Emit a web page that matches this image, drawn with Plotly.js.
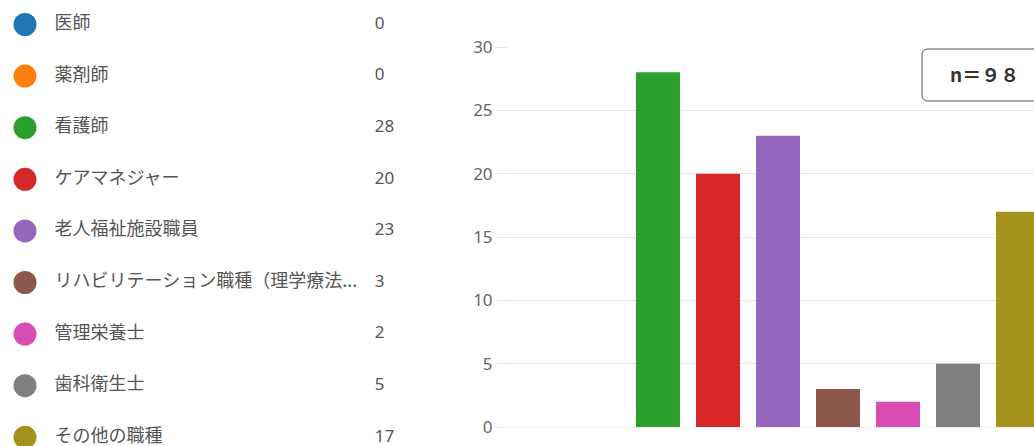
<!DOCTYPE html>
<html>
<head>
<meta charset="utf-8">
<script src="https://cdn.plot.ly/plotly-3.0.1.min.js"></script>
<style>html,body{margin:0;padding:0;background:#fff;}#chart{width:1034px;height:446px;}</style>
</head>
<body>
<div id="chart"></div>
<script>
const categories = ["医師","薬剤師","看護師","ケアマネジャー","老人福祉施設職員","リハビリテーション職種（理学療法...","管理栄養士","歯科衛生士","その他の職種"];
const counts = [0,0,28,20,23,3,2,5,17];
const colors = ["#1f77b4","#ff7f0e","#2ca02c","#d62728","#9467bd","#8c564b","#d94cb4","#7f7f7f","#a3921c"];
const yTicks = [0,5,10,15,20,25,30];
const nLabel = "n＝９８";

const W = 1034, H = 446;
const idx = categories.map((_, i) => i);

const bars = {
  type: "bar",
  x: idx,
  y: counts,
  marker: {color: colors},
  xaxis: "x", yaxis: "y",
  hoverinfo: "skip",
  showlegend: false
};

const rowY = idx.map(i => i);
const dots = {
  type: "scatter", mode: "markers",
  x: idx.map(() => 0), y: rowY,
  marker: {color: colors, size: 23, line: {width: 0}},
  xaxis: "x2", yaxis: "y2", hoverinfo: "skip", showlegend: false
};
const labels = {
  type: "scatter", mode: "text",
  x: idx.map(() => 1), y: rowY,
  text: categories, textposition: "middle right",
  textfont: {family: "Noto Sans CJK JP", size: 18, color: "#555"},
  xaxis: "x2", yaxis: "y2", hoverinfo: "skip", showlegend: false
};
const values = {
  type: "scatter", mode: "text",
  x: idx.map(() => 11.86), y: rowY,
  text: counts.map(String), textposition: "middle right",
  textfont: {family: "Noto Sans", size: 17, color: "#555"},
  xaxis: "x2", yaxis: "y2", hoverinfo: "skip", showlegend: false
};

const leftW = 480;
const x2unit = 29.5;
const rowH = 51.6;
const row0 = 24.5;

const boxX0 = 922 / W, boxX1 = 1.03, boxY1 = (H - 49) / H, boxY0 = (H - 101) / H;
const rx = 6 / W, ry = 6 / H;
const boxPath = `M ${boxX0 + rx} ${boxY1} L ${boxX1} ${boxY1} L ${boxX1} ${boxY0} L ${boxX0 + rx} ${boxY0} Q ${boxX0} ${boxY0} ${boxX0} ${boxY0 + ry} L ${boxX0} ${boxY1 - ry} Q ${boxX0} ${boxY1} ${boxX0 + rx} ${boxY1} Z`;

const layout = {
  width: W, height: H,
  margin: {l: 0, r: 0, t: 0, b: 0, pad: 0},
  paper_bgcolor: "#fff", plot_bgcolor: "rgba(0,0,0,0)",
  bargap: 0.267,
  xaxis: {
    domain: [508 / W, 1], range: [-0.5, -0.5 + (W - 508) / 60],
    showticklabels: false, showgrid: false, zeroline: false,
    showline: true, linecolor: "#f2f2f2", linewidth: 1, fixedrange: true
  },
  yaxis: {
    domain: [(H - 427) / H, (H - 47) / H], range: [0, 30],
    tickvals: yTicks, ticktext: yTicks.map(String),
    ticks: "outside", ticklen: 11, tickcolor: "#e6e6e6", tickwidth: 1,
    tickfont: {family: "Noto Sans", size: 17, color: "#666"},
    showgrid: true, gridcolor: "#e6e6e6", gridwidth: 1,
    zeroline: true, zerolinecolor: "#dcdcdc", zerolinewidth: 1,
    showline: false, fixedrange: true
  },
  xaxis2: {
    domain: [0, leftW / W], range: [-25 / x2unit, -25 / x2unit + leftW / x2unit],
    visible: false, fixedrange: true, anchor: "y2"
  },
  yaxis2: {
    domain: [0, 1], anchor: "x2",
    range: [(H - row0) / rowH, -row0 / rowH],
    visible: false, fixedrange: true
  },
  shapes: [{
    type: "path", xref: "paper", yref: "paper", path: boxPath,
    line: {color: "#555", width: 1}, fillcolor: "#fff", layer: "above"
  }],
  annotations: [{
    xref: "paper", yref: "paper", x: 984 / W, y: (H - 73) / H,
    text: "<b>" + nLabel + "</b>", showarrow: false,
    xanchor: "center", yanchor: "middle",
    font: {family: "Noto Sans CJK JP", size: 19, color: "#333"}
  }]
};

Plotly.newPlot("chart", [bars, dots, labels, values], layout, {staticPlot: true, displayModeBar: false});
</script>
</body>
</html>
